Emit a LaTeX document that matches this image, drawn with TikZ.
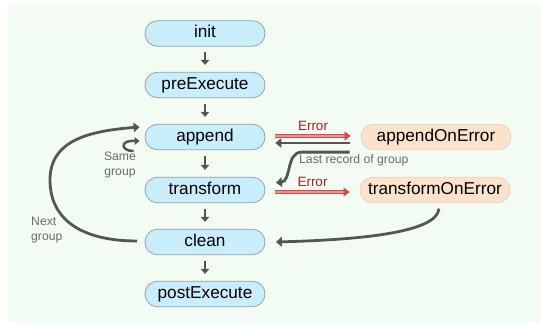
\documentclass[tikz,border=0pt]{standalone}
\usepackage{fontspec}
\setmainfont{Liberation Sans}
\usetikzlibrary{arrows.meta}

\definecolor{bgmint}{HTML}{F3FCF3}
\definecolor{stagefill}{HTML}{C8EEFB}
\definecolor{stageline}{HTML}{8FA3AB}
\definecolor{errboxfill}{HTML}{FBE3CB}
\definecolor{errboxline}{HTML}{EDD3B9}
\definecolor{arrowgray}{HTML}{555555}
\definecolor{errfill}{HTML}{F49090}
\definecolor{errline}{HTML}{D24C4C}
\definecolor{errtext}{HTML}{A52020}
\definecolor{notegray}{HTML}{6A6A6A}

\tikzset{
  stage/.style={draw=stageline, fill=stagefill, line width=0.8pt,
    rounded corners=12.5pt, minimum width=120pt, minimum height=25.5pt,
    inner sep=0pt, text height=12.2pt, text depth=3.6pt,
    font=\fontsize{17.2}{20}\selectfont},
  fallback/.style={stage, draw=errboxline, fill=errboxfill, minimum width=150pt},
  stub/.style={draw=arrowgray, line width=2.8pt,
    -{Triangle[length=5pt,width=8.5pt]}, shorten <=5.5pt, shorten >=7pt},
  flow/.style={draw=arrowgray, line width=2.8pt, -{Triangle[length=6pt,width=9.5pt]}},
  errarrow/.style={draw=errline, line width=0.7pt, double=errfill, double distance=1.8pt,
    -{Triangle[length=6pt,width=9pt]}, shorten <=10pt, shorten >=10pt},
  errlabel/.style={text=errtext, font=\fontsize{13.5}{16}\selectfont},
  note/.style={text=notegray, font=\fontsize{12.2}{15.3}\selectfont, inner sep=0pt}
}

\begin{document}
\begin{tikzpicture}[x=1pt,y=1pt]
    \useasboundingbox (0,0) rectangle (542,327);
    \fill[bgmint] (8,5) rectangle (541,322);

    % main stages
    \node[stage] (init) at (205,293.5) {init};
    \node[stage] (pre) at (205,242) {preExecute};
    \node[stage] (append) at (205,190) {append};
    \node[stage] (transform) at (205,137) {transform};
    \node[stage] (clean) at (205,85) {clean};
    \node[stage] (post) at (205,33) {postExecute};

    % error handlers
    \node[fallback] (appendErr) at (436,190) {appendOnError};
    \node[fallback] (transformErr) at (435,137) {transformOnError};

    \foreach \a/\b in {init/pre, pre/append, append/transform, transform/clean, clean/post}
        \draw[stub] (\a) -- (\b);

    % error branches
    \draw[errarrow] ([yshift=1pt]append.east) -- ([yshift=1pt]appendErr.west)
        node[midway, above=2pt, errlabel]{Error};
    \draw[flow, shorten <=11pt, shorten >=10pt] ([yshift=-6pt]appendErr.west) -- ([yshift=-6pt]append.east);
    \draw[errarrow] ([yshift=-2pt]transform.east) -- ([yshift=-2pt]transformErr.west)
        node[midway, above=2pt, errlabel]{Error};

    \draw[flow] ([xshift=-11pt,yshift=-2pt]appendErr.south west) -- ++(-48,0)
        to[out=180,in=5] ([xshift=10.5pt,yshift=7.3pt]transform.east);
    \node[note, anchor=west] (lastrec) at (299,166.3) {Last record of group};

    \draw[flow] ([xshift=4pt,yshift=-5.5pt]transformErr.south)
        .. controls +(-2,-24) and +(84.5,2.3) .. ([xshift=10.5pt]clean.east);

    % loops back to append
    \coordinate (loopleft) at (50,147);
    \draw[flow] ([xshift=-7.5pt,yshift=1pt]clean.west)
        .. controls +(-55,0) and +(0,-40) .. (loopleft)
        .. controls +(0,40) and +(-50,-4) .. ([xshift=-5pt,yshift=10pt]append.west);
    \node[note, align=left, anchor=west] (nextgrp) at (31,96.7) {Next\\group};

    \draw[draw=arrowgray, line width=2.5pt, -{Triangle[length=5pt,width=7.5pt]}]
        ([xshift=-11pt,yshift=-14pt]append.west)
        .. controls +(-13,0) and +(-11,0) .. ([xshift=-13pt,yshift=-4pt]append.west)
        -- ([xshift=-5pt,yshift=-4pt]append.west);
    \node[note, align=center] (samegrp) at (120,162) {Same\\group};
\end{tikzpicture}
\end{document}
